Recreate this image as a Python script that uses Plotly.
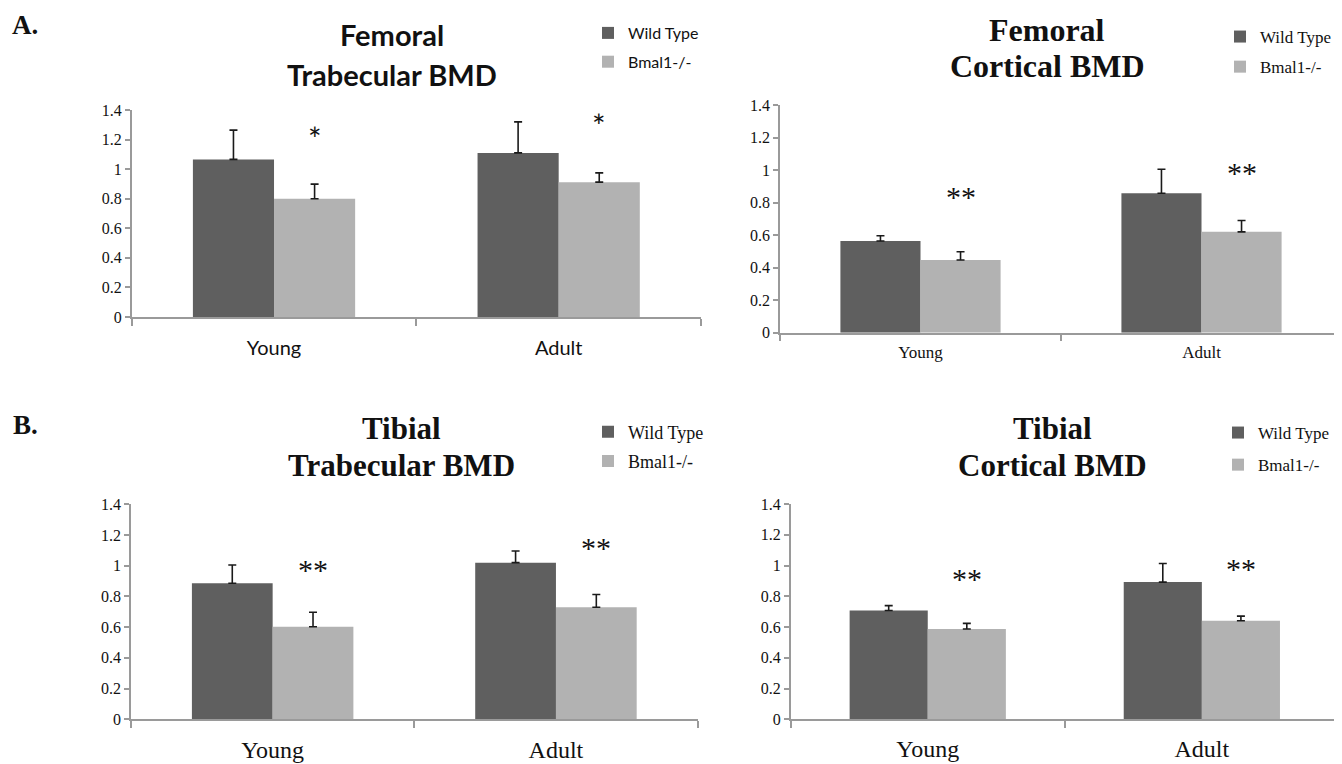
import plotly.graph_objects as go

# The page body adds an 8 px offset, so the figure is drawn 8 px smaller
# and all screen positions are converted with that offset.
OFF = 8
W, H = 1342 - OFF, 764 - OFF

categories = ["Young", "Adult"]
series_names = ["Wild Type", "Bmal1-/-"]

# Panel A left: Femoral Trabecular BMD
fem_trab_wt = [1.066, 1.11]
fem_trab_wt_err = [0.198, 0.21]
fem_trab_ko = [0.80, 0.912]
fem_trab_ko_err = [0.099, 0.063]
fem_trab_stars = ["*", "*"]
fem_trab_star_y = [1.25, 1.34]

# Panel A right: Femoral Cortical BMD
fem_cort_wt = [0.564, 0.857]
fem_cort_wt_err = [0.032, 0.148]
fem_cort_ko = [0.447, 0.62]
fem_cort_ko_err = [0.051, 0.07]
fem_cort_stars = ["**", "**"]
fem_cort_star_y = [0.877, 1.019]

# Panel B left: Tibial Trabecular BMD
tib_trab_wt = [0.886, 1.02]
tib_trab_wt_err = [0.119, 0.076]
tib_trab_ko = [0.603, 0.73]
tib_trab_ko_err = [0.094, 0.083]
tib_trab_stars = ["**", "**"]
tib_trab_star_y = [1.015, 1.16]

# Panel B right: Tibial Cortical BMD
tib_cort_wt = [0.707, 0.892]
tib_cort_wt_err = [0.032, 0.121]
tib_cort_ko = [0.587, 0.641]
tib_cort_ko_err = [0.037, 0.03]
tib_cort_stars = ["**", "**"]
tib_cort_star_y = [0.957, 1.017]

y_ticks = [0, 0.2, 0.4, 0.6, 0.8, 1.0, 1.2, 1.4]

WT_COLOR = "#5f5f5f"
KO_COLOR = "#b2b2b2"
AXIS_COLOR = "#9a9a9a"
TXT = "#111111"
SERIF = "Liberation Serif, Times New Roman, serif"
SANS = "Lato, Open Sans, sans-serif"

def px_x(x):
    return max(0.0, min(1.0, (x - OFF) / W))

def px_y(y):
    return max(0.0, min(1.0, 1 - (y - OFF) / H))

panels = [
    dict(wt=fem_trab_wt, wte=fem_trab_wt_err, ko=fem_trab_ko, koe=fem_trab_ko_err,
         stars=fem_trab_stars, star_y=fem_trab_star_y,
         title=["Femoral", "Trabecular BMD"], tfont=SANS, tsize=29,
         tx=392, ty=[35, 74],
         xdom=[131.7, 701], ydom=[110, 317],
         catfont=SANS, catsize=20, standoff=12,
         legfont=SANS, legsize=16, legx=588, legy=16, leggap=5,
         starfont=SANS, starsize=32, barw=81),
    dict(wt=fem_cort_wt, wte=fem_cort_wt_err, ko=fem_cort_ko, koe=fem_cort_ko_err,
         stars=fem_cort_stars, star_y=fem_cort_star_y,
         title=["Femoral", "Cortical BMD"], tfont=SERIF, tsize=32,
         tx=1047, ty=[30, 66],
         xdom=[780, 1342], ydom=[105, 332.7],
         catfont=SERIF, catsize=17, standoff=3,
         legfont=SERIF, legsize=17, legx=1220, legy=19, leggap=5,
         starfont=SERIF, starsize=30, barw=81),
    dict(wt=tib_trab_wt, wte=tib_trab_wt_err, ko=tib_trab_ko, koe=tib_trab_ko_err,
         stars=tib_trab_stars, star_y=tib_trab_star_y,
         title=["Tibial", "Trabecular BMD"], tfont=SERIF, tsize=31,
         tx=401, ty=[428, 465],
         xdom=[131, 697.6], ydom=[504.3, 719.3],
         catfont=SERIF, catsize=24, standoff=8,
         legfont=SERIF, legsize=18, legx=588, legy=413.5, leggap=3,
         starfont=SERIF, starsize=30, barw=81),
    dict(wt=tib_cort_wt, wte=tib_cort_wt_err, ko=tib_cort_ko, koe=tib_cort_ko_err,
         stars=tib_cort_stars, star_y=tib_cort_star_y,
         title=["Tibial", "Cortical BMD"], tfont=SERIF, tsize=31,
         tx=1052, ty=[428, 465],
         xdom=[790.7, 1338.9], ydom=[504, 719.3],
         catfont=SERIF, catsize=24, standoff=7,
         legfont=SERIF, legsize=17, legx=1218, legy=415, leggap=7,
         starfont=SERIF, starsize=30, barw=78),
]

fig = go.Figure()
annotations = []
layout = dict(
    width=W, height=H,
    margin=dict(l=0, r=0, t=0, b=0, autoexpand=False),
    paper_bgcolor="white", plot_bgcolor="white",
    barmode="group", bargap=0.43, bargroupgap=0,
    showlegend=True,
)

for i, p in enumerate(panels, start=1):
    xa = "x" if i == 1 else f"x{i}"
    ya = "y" if i == 1 else f"y{i}"
    leg = "legend" if i == 1 else f"legend{i}"
    for name, vals, errs, col in [
        (series_names[0], p["wt"], p["wte"], WT_COLOR),
        (series_names[1], p["ko"], p["koe"], KO_COLOR),
    ]:
        fig.add_trace(go.Bar(
            x=categories, y=vals, name=name,
            marker=dict(color=col, line=dict(width=0)),
            error_y=dict(type="data", array=errs, arrayminus=[0] * len(errs),
                         symmetric=False, color="#1a1a1a", thickness=1.6, width=4),
            xaxis=xa, yaxis=ya, legend=leg, legendgroup=f"{leg}_{name}",
            offsetgroup=name,
        ))
    xkey = "xaxis" if i == 1 else f"xaxis{i}"
    ykey = "yaxis" if i == 1 else f"yaxis{i}"
    layout[xkey] = dict(
        domain=[px_x(p["xdom"][0]), px_x(p["xdom"][1])],
        anchor=ya, type="category",
        showline=True, linecolor=AXIS_COLOR, linewidth=1.5,
        ticks="outside", tickson="boundaries", ticklen=7, tickcolor=AXIS_COLOR, tickwidth=1.5,
        tickfont=dict(family=p["catfont"], size=p["catsize"], color=TXT),
        ticklabelstandoff=p["standoff"],
        showgrid=False, zeroline=False, fixedrange=True, automargin=False,
    )
    layout[ykey] = dict(
        domain=[px_y(p["ydom"][1]), px_y(p["ydom"][0])],
        anchor=xa, range=[0, 1.4], tickvals=y_ticks,
        ticktext=[f"{v:g}" for v in y_ticks],
        showline=True, linecolor=AXIS_COLOR, linewidth=1.5,
        ticks="outside", ticklen=5, tickcolor=AXIS_COLOR, tickwidth=1.5,
        tickfont=dict(family=SERIF, size=16, color=TXT),
        showgrid=False, zeroline=False, fixedrange=True, automargin=False,
    )
    layout[leg] = dict(
        x=px_x(p["legx"]), y=px_y(p["legy"]), xanchor="left", yanchor="top",
        xref="paper", yref="paper",
        font=dict(family=p["legfont"], size=p["legsize"], color=TXT),
        bgcolor="rgba(0,0,0,0)", borderwidth=0,
        tracegroupgap=p["leggap"], itemclick=False, itemdoubleclick=False,
    )
    for line, ty in zip(p["title"], p["ty"]):
        annotations.append(dict(
            text=f"<b>{line}</b>", xref="paper", yref="paper",
            x=px_x(p["tx"]), y=px_y(ty), xanchor="center", yanchor="middle",
            showarrow=False, font=dict(family=p["tfont"], size=p["tsize"], color=TXT),
        ))
    for cat, s, sy in zip(categories, p["stars"], p["star_y"]):
        annotations.append(dict(
            text=s, xref=xa, yref=ya, x=cat, y=sy,
            xanchor="center", yanchor="middle", showarrow=False,
            xshift=p["barw"] / 2, yshift=-0.2 * p["starsize"],
            font=dict(family=p["starfont"], size=p["starsize"], color=TXT),
        ))

for lbl, ly in [("A.", 25), ("B.", 425)]:
    annotations.append(dict(
        text=f"<b>{lbl}</b>", xref="paper", yref="paper",
        x=px_x(25), y=px_y(ly), xanchor="center", yanchor="middle",
        showarrow=False, font=dict(family=SERIF, size=27, color=TXT),
    ))

layout["annotations"] = annotations
fig.update_layout(**layout)
fig.write_html("out.html")
